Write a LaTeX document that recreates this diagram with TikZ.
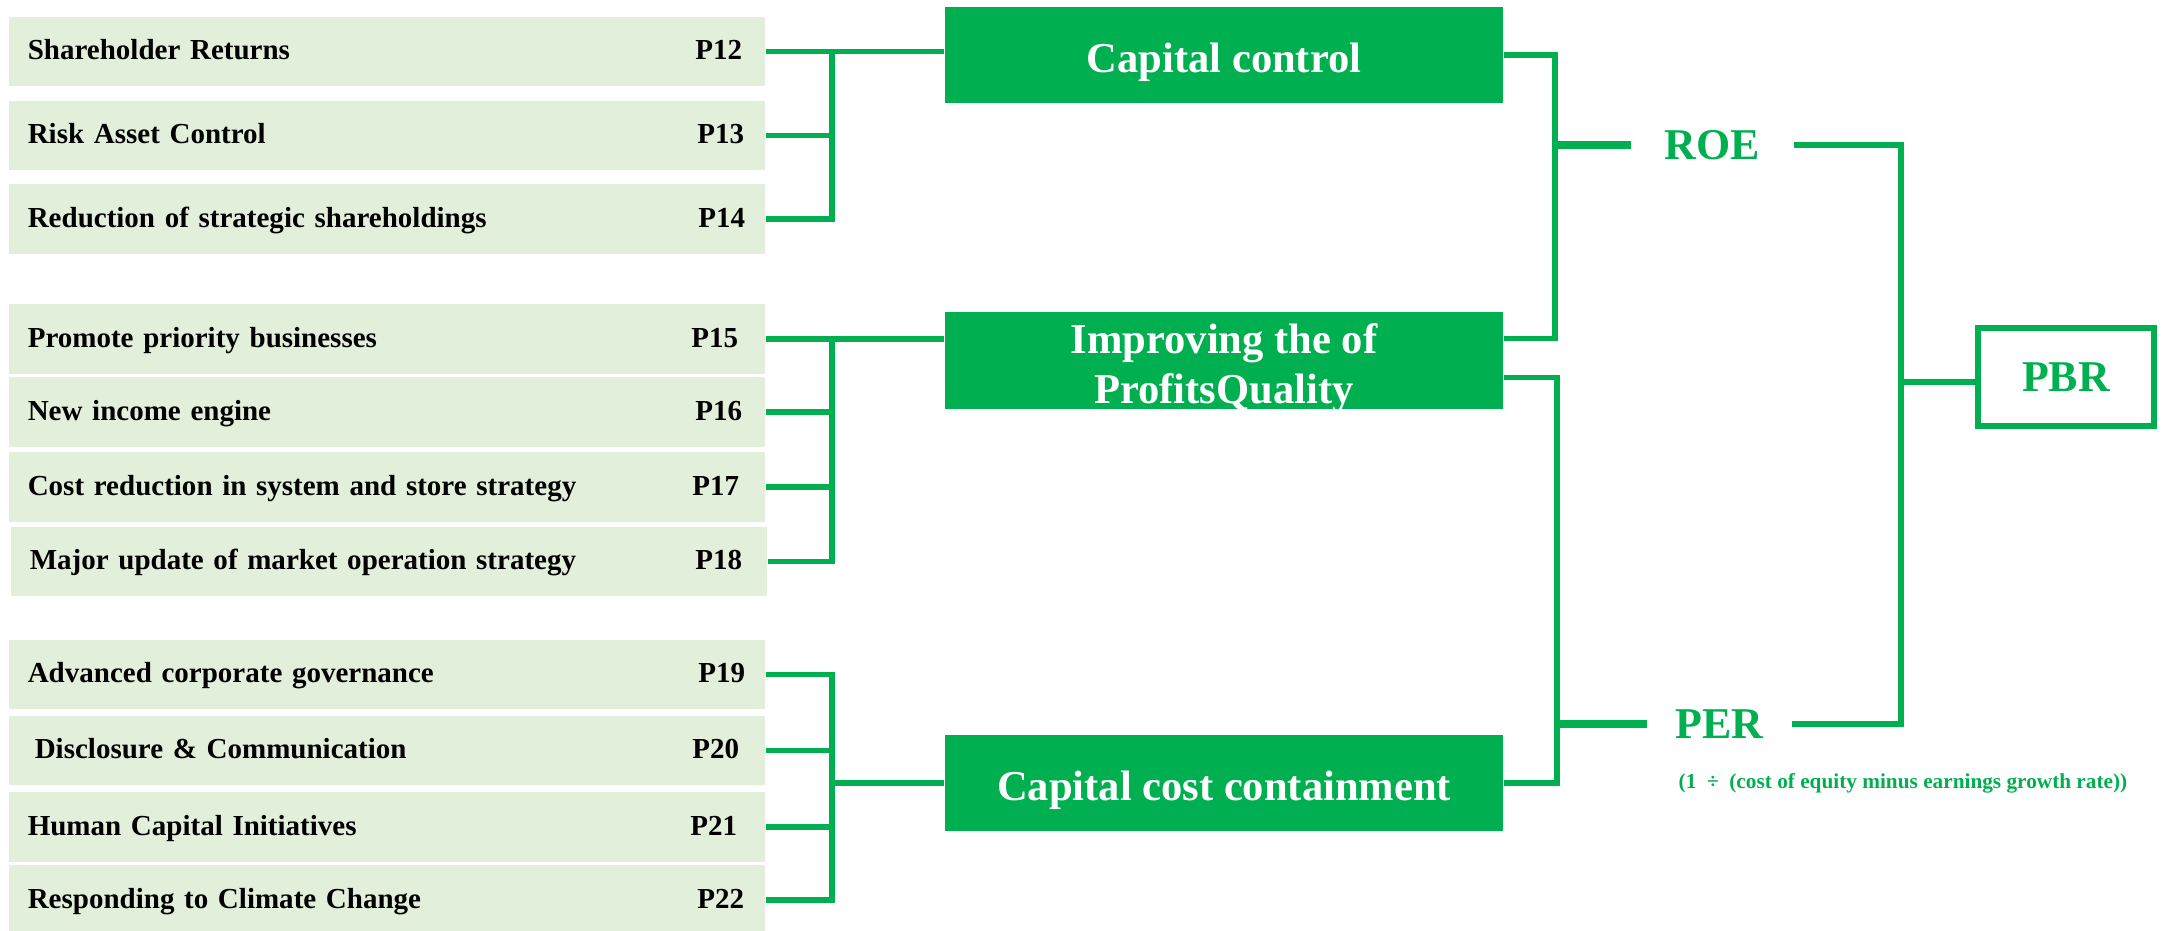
\documentclass[tikz,border=0pt]{standalone}
\usepackage{fontspec}
\setmainfont{Liberation Serif}
\usepackage{xcolor}
\definecolor{cGreen}{HTML}{00AF50}
\definecolor{cLight}{HTML}{E2EFDA}
\usepackage{tikz}
\usetikzlibrary{positioning}
\tikzset{
  item-box/.style={fill=cLight,minimum height=0.69cm,text width=7.18cm,
    inner xsep=0.19cm,inner ysep=0pt,align=left,text height=6.5pt,
    text depth=1.8pt,font=\fontsize{8.25}{9.9}\selectfont\bfseries},
  page-tag/.style={inner sep=0pt,font=\fontsize{8.25}{9.9}\selectfont\bfseries},
  key-box/.style={fill=cGreen,text=white,minimum width=5.58cm,
    minimum height=0.96cm,align=center,inner sep=0pt,
    font=\fontsize{12.1}{14.3}\selectfont\bfseries},
  ratio-label/.style={text=cGreen,inner sep=0pt,minimum height=0.5cm,
    font=\fontsize{12.5}{14}\selectfont\bfseries},
  pbr-box/.style={draw=cGreen,line width=1.5pt,minimum width=1.76cm,
    minimum height=0.98cm,inner sep=0pt,text=cGreen,
    font=\fontsize{12.5}{14}\selectfont\bfseries},
  link/.style={draw=cGreen,line width=1.5pt},
  link-thick/.style={draw=cGreen,line width=2.1pt},
}

\begin{document}
\begin{tikzpicture}[x=0.01cm,y=-0.01cm]
  \useasboundingbox (0,0) rectangle (2164,931);
  % left column
  \node[item-box] (b1)  at (387,51.5)  {Shareholder Returns};
  \node[item-box] (b2)  at (387,135.5) {Risk Asset Control};
  \node[item-box] (b3)  at (387,219)   {Reduction of strategic shareholdings};
  \node[item-box] (b4)  at (387,339)   {Promote priority businesses};
  \node[item-box] (b5)  at (387,412)   {New income engine};
  \node[item-box] (b6)  at (387,487)   {Cost reduction in system and store strategy};
  \node[item-box] (b7)  at (389,561.5) {Major update of market operation strategy};
  \node[item-box] (b8)  at (387,674.5) {Advanced corporate governance};
  \node[item-box] (b9)  at (387,750.5) {\hspace*{0.07cm}Disclosure \& Communication};
  \node[item-box] (b10) at (387,827)   {Human Capital Initiatives};
  \node[item-box] (b11) at (387,900)   {Responding to Climate Change};
  \node[page-tag,left=0.23cm of b1.base east,anchor=base east]  (p12) {P12};
  \node[page-tag,left=0.21cm of b2.base east,anchor=base east]  (p13) {P13};
  \node[page-tag,left=0.20cm of b3.base east,anchor=base east]  (p14) {P14};
  \node[page-tag,left=0.27cm of b4.base east,anchor=base east]  (p15) {P15};
  \node[page-tag,left=0.23cm of b5.base east,anchor=base east]  (p16) {P16};
  \node[page-tag,left=0.26cm of b6.base east,anchor=base east]  (p17) {P17};
  \node[page-tag,left=0.25cm of b7.base east,anchor=base east]  (p18) {P18};
  \node[page-tag,left=0.20cm of b8.base east,anchor=base east]  (p19) {P19};
  \node[page-tag,left=0.26cm of b9.base east,anchor=base east]  (p20) {P20};
  \node[page-tag,left=0.28cm of b10.base east,anchor=base east] (p21) {P21};
  \node[page-tag,left=0.21cm of b11.base east,anchor=base east] (p22) {P22};
  % middle column
  \node[key-box,text height=12.5pt,text depth=2.7pt] (cap)  at (1224,55) {Capital control};
  \node[key-box,text height=24.6pt,text depth=0pt] (imp) at (1224,360.5) {Improving the of\\ProfitsQuality};
  \node[key-box,text height=12.5pt,text depth=2.7pt] (cost) at (1224,783) {Capital cost containment};
  % ratios
  \node[ratio-label,minimum width=1.61cm] (roe) at (1712.5,145) {ROE};
  \node[ratio-label,minimum width=1.43cm] (per) at (1719.5,724) {PER};
  \node[anchor=west,inner sep=0pt,text=cGreen,font=\fontsize{6.05}{7.5}\selectfont\bfseries]
    (per-note) at (1678,783) {(1\enspace÷\enspace(cost of equity minus earnings growth rate))};
  \node[pbr-box] (pbr) at (2066,377) {PBR};
  % junctions
  \coordinate (g1) at (832,51.5);
  \coordinate (g2) at (832,339);
  \coordinate (g3) at (832,674.5);
  \coordinate (roe-bar) at (1555,145);
  \coordinate (per-bar) at (1557,724);
  \coordinate (pbr-bar) at (1901,382);
  % links
  \draw[link] (b1.east) -- (cap.west |- b1.east);
  \draw[link] (b3.east) -| (g1);
  \draw[link] (b2.east) -- (g1 |- b2.east);
  \draw[link] (b4.east) -- (imp.west |- b4.east);
  \draw[link] (b7.east) -| (g2);
  \draw[link] (b5.east) -- (g2 |- b5.east);
  \draw[link] (b6.east) -- (g2 |- b6.east);
  \draw[link] (b8.east) -| (g3) |- (b11.east);
  \draw[link] (b9.east) -- (g3 |- b9.east);
  \draw[link] (b10.east) -- (g3 |- b10.east);
  \draw[link] (g3 |- cost.west) -- (cost.west);
  \draw[link] (cap.east) -| (roe-bar) |- ([yshift=0.22cm]imp.east);
  \draw[link-thick] (roe-bar) -- (roe.west);
  \draw[link] ([yshift=-0.17cm]imp.east) -| (per-bar) |- (cost.east);
  \draw[link-thick] (per-bar) -- (per.west);
  \draw[link] (roe.east) -| (pbr-bar) |- (per.east);
  \draw[link] (pbr-bar) -- (pbr.west |- pbr-bar);
\end{tikzpicture}
\end{document}
